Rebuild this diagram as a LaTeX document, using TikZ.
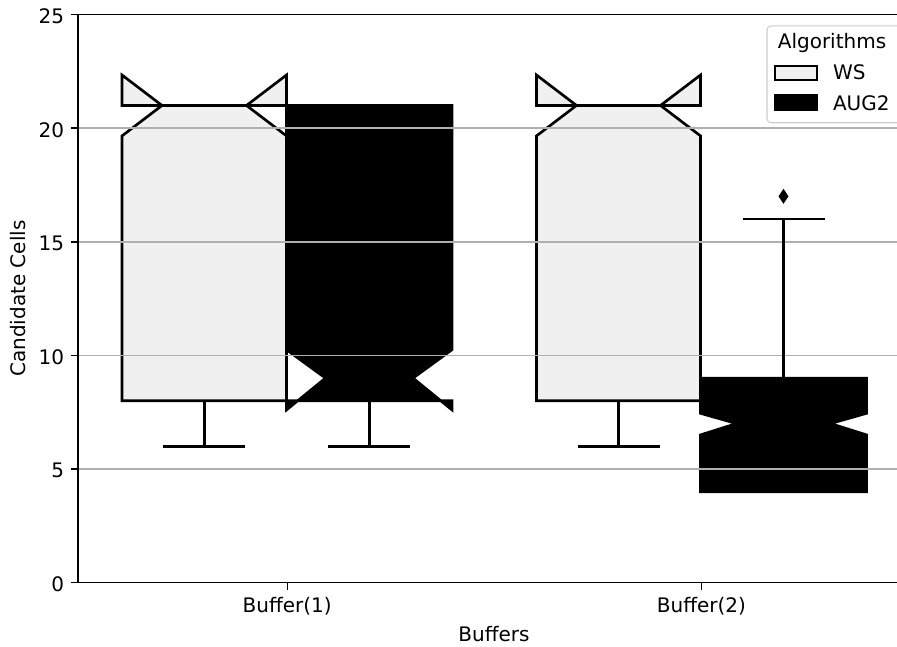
\documentclass[tikz,border=0pt]{standalone}
\usepackage{fontspec}
\setmainfont{DejaVu Sans}
\definecolor{wsgray}{RGB}{240,240,240}
\definecolor{gridgray}{RGB}{176,176,176}
\definecolor{legedge}{RGB}{204,204,204}
\newcommand\nbox[9]{\draw[#1] (#2,#4) -- (#3,#4) -- (#3,#7) -- ({#3-#9},#6) -- (#3,#8) -- (#3,#5) -- (#2,#5) -- (#2,#8) -- ({#2+#9},#6) -- (#2,#7) -- cycle;}
\begin{document}
\begin{tikzpicture}[x=0.75pt,y=17.04pt,
  lbl/.style={font=\fontsize{15}{18}\selectfont, inner sep=0pt, outer sep=0pt},
  wsbox/.style={line width=2pt, line join=miter, draw=black, fill=wsgray},
  augbox/.style={line width=2pt, line join=miter, draw=black, fill=black},
  whisk/.style={line width=2pt},
  gridln/.style={draw=gridgray, line width=1.1pt},
  spine/.style={line width=1.1pt, line join=miter},
  tickmark/.style={line width=1.1pt},
  legframe/.style={draw=legedge, line width=0.8pt, fill=white, fill opacity=0.8, rounded corners=3pt},
  legpatch/.style={draw=black, line width=0.9pt}
  ]
\clip (0,-2.834) rectangle (897,25.642);
\fill[white] (0,-2.834) rectangle (897,25.642);

% boxes
\nbox{wsbox}{122}{286.5}{8}{21}{21}{19.66}{22.34}{40}
\nbox{augbox}{286.5}{452}{8}{21}{9}{7.6}{10.25}{39}
\nbox{wsbox}{536.5}{700.5}{8}{21}{21}{19.66}{22.34}{40}
\nbox{augbox}{700.5}{866.5}{4}{9}{7}{6.5}{7.45}{36}

% grid
\foreach \v in {5,10,15,20} {\draw[gridln] (78,\v) -- (897,\v);}

% whiskers and caps
\coordinate (w1c) at (204.25,6);
\draw[whisk] (204.25,8) -- (w1c);
\draw[whisk] (163.25,6) -- (245.25,6);
\draw[whisk] (163.25,21) -- (245.25,21);
\draw[whisk] (369.25,8) -- (369.25,6);
\draw[whisk] (328.25,6) -- (410.25,6);
\draw[whisk] (618.5,8) -- (618.5,6);
\draw[whisk] (577.5,6) -- (659.5,6);
\draw[whisk] (577.5,21) -- (659.5,21);
\draw[whisk] (783.5,9) -- (783.5,16);
\draw[whisk] (742.5,16) -- (824.5,16);
\draw[whisk] (742.5,4) -- (824.5,4);
% flier
\coordinate (flier) at (783.5,17);
\fill[black] (flier) ++(0,0.33) -- ++(5,-0.33) -- ++(-5,-0.33) -- ++(-5,0.33) -- cycle;

% spines
\draw[spine] (897,25) -- (78,25) -- (78,0) -- (897,0);

% y ticks
\foreach \v in {0,5,10,15,20,25} {
  \draw[tickmark] (71,\v) -- (78,\v);
  \node[lbl, anchor=east, yshift=-1.4pt] (yt\v) at (64,\v) {\v};
}
% x ticks
\draw[tickmark] (287.25,0) -- (287.25,-0.308);
\draw[tickmark] (701.5,0) -- (701.5,-0.308);
\node[lbl, anchor=base] (xt1) at (287.25,-1.338) {Buffer(1)};
\node[lbl, anchor=base] (xt2) at (701.5,-1.338) {Buffer(2)};
\node[lbl, anchor=base] (xlab) at (494,-2.60) {Buffers};
\node[lbl, anchor=base, rotate=90] (ylab) at (26,12.5) {Candidate Cells};

% legend
\draw[legframe] (767,20.24) rectangle (915,24.50);
\node[lbl, anchor=base] (legtitle) at (832,23.486) {Algorithms};
\draw[legpatch, fill=wsgray] (775,22.121) rectangle (817,22.737);
\draw[legpatch, fill=black] (775,20.80) rectangle (817,21.46);
\node[lbl, anchor=base west] (legws) at (833,22.121) {WS};
\node[lbl, anchor=base west] (legaug) at (833,20.80) {AUG2};
\end{tikzpicture}
\end{document}
